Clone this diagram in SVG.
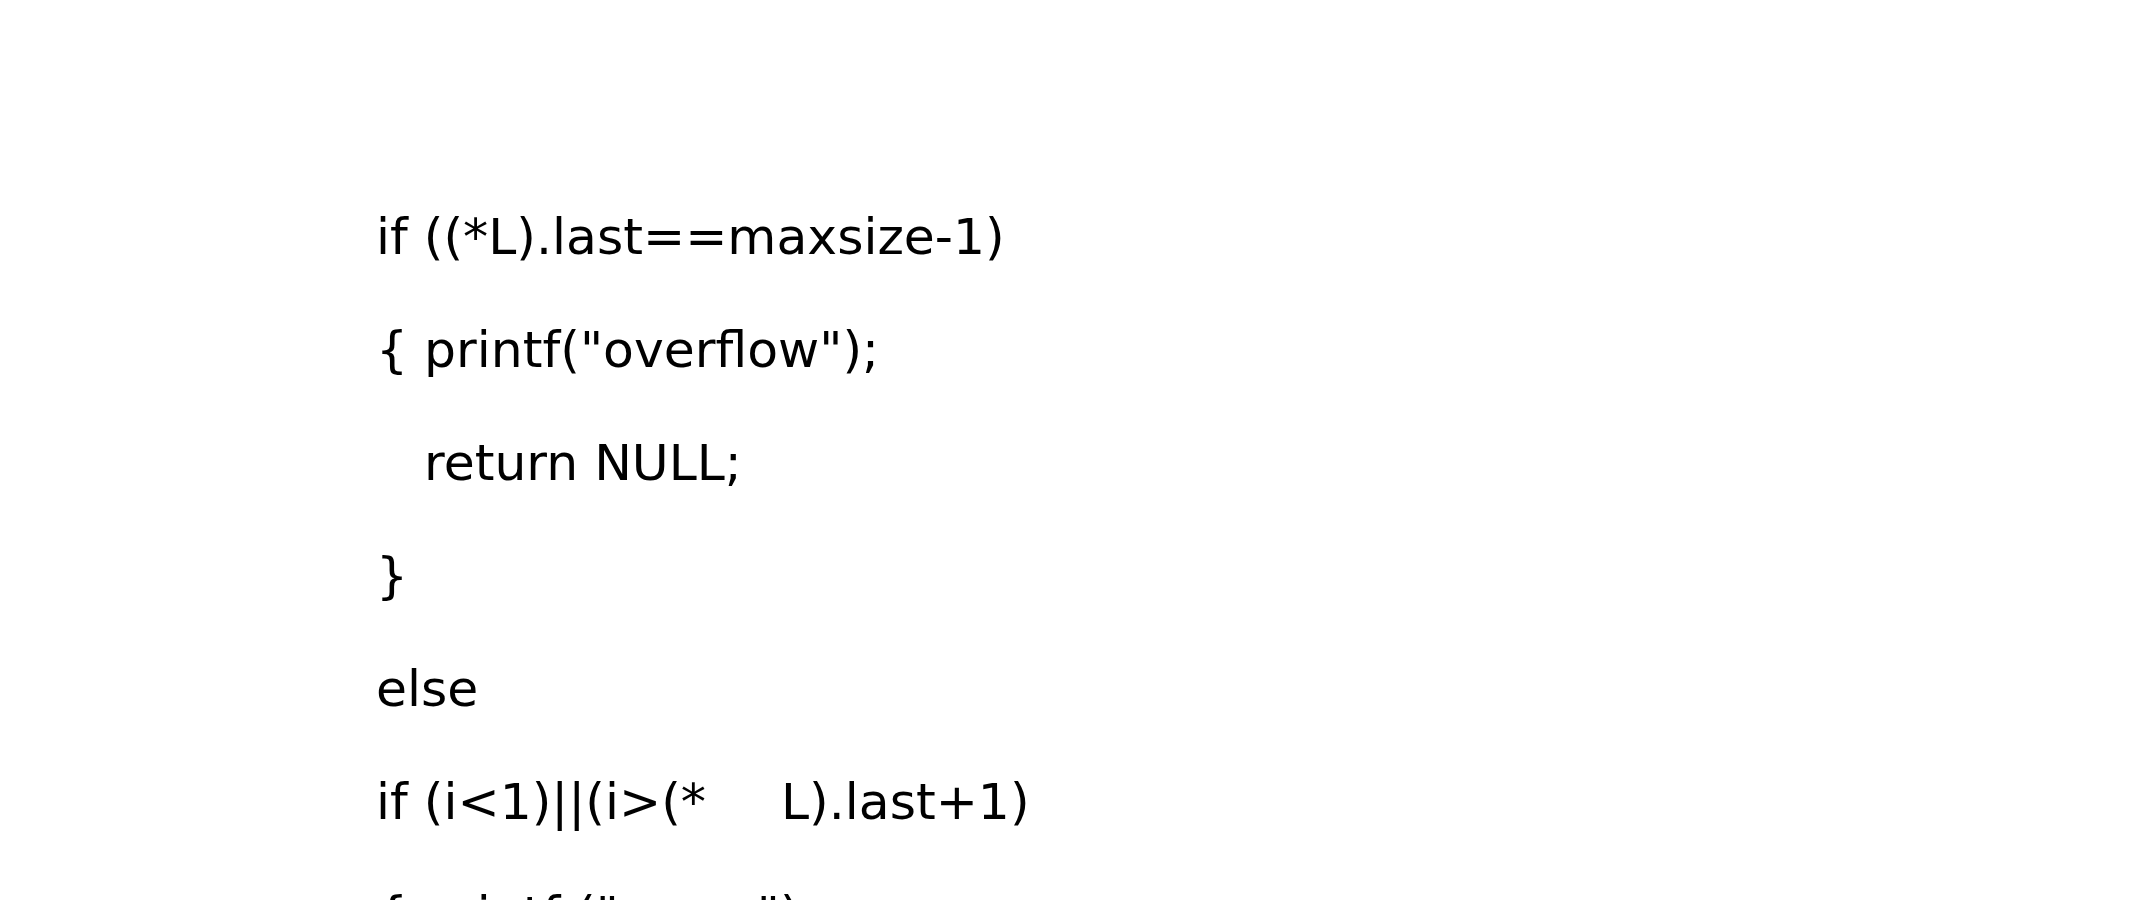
<svg xmlns="http://www.w3.org/2000/svg" width="2149" height="900" viewBox="0 0 2149 900">
<style>
.code{font-family:"DejaVu Sans",sans-serif;font-size:50.4px;fill:#000;white-space:pre}
</style>
<rect width="2149" height="900" fill="#fff"/>
<g id="code">
<text class="code" xml:space="preserve" x="376" y="254">if ((*L).last==maxsize-1)</text>
<text class="code" xml:space="preserve" x="376" y="367">{ printf("overflow");</text>
<text class="code" xml:space="preserve" x="376" y="480">   return NULL;</text>
<text class="code" xml:space="preserve" x="376" y="593">}</text>
<text class="code" xml:space="preserve" x="376" y="706">else</text>
<text class="code" xml:space="preserve" x="376" y="819">if (i&lt;1)||(i&gt;(*<tspan x="781">L).last+1)</tspan></text>
<text class="code" xml:space="preserve" x="376" y="932">{ printf<tspan x="576">("error ");</tspan></text>
</g>
</svg>
